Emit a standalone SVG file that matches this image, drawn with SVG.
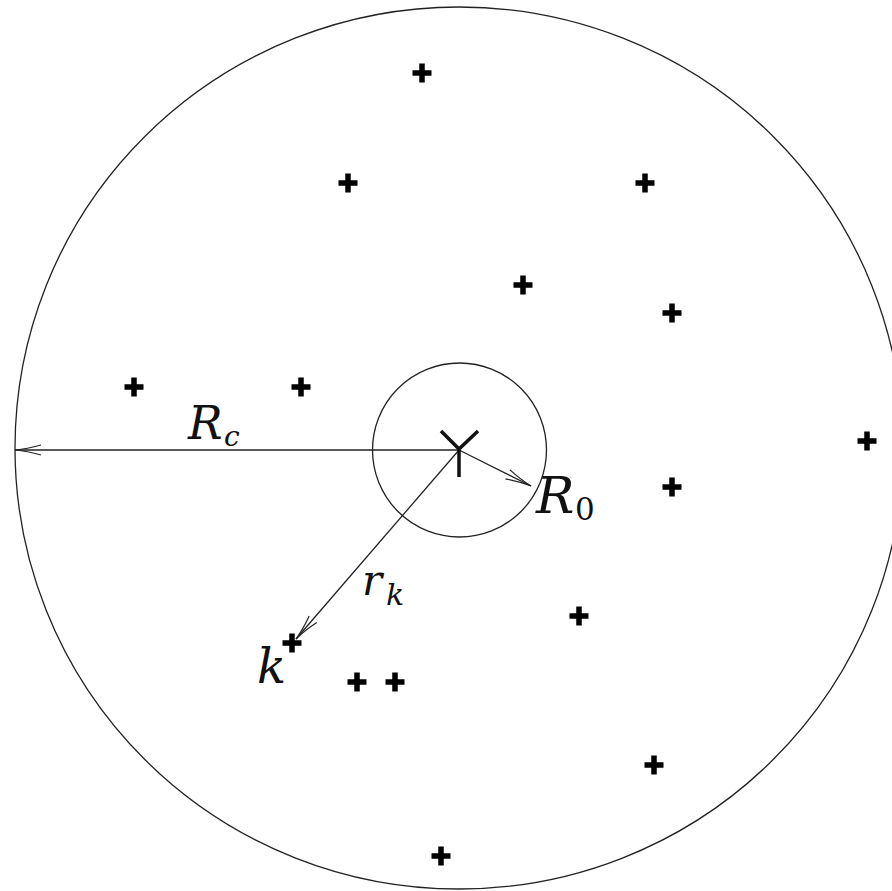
<svg xmlns="http://www.w3.org/2000/svg" xmlns:xlink="http://www.w3.org/1999/xlink" width="892" height="891" viewBox="0 0 892 891">
<style>
.circ{fill:none;stroke:#222;stroke-width:1.3}
.conn{fill:none;stroke:#222;stroke-width:1.3}
text{fill:#111;font-family:"DejaVu Serif","Liberation Serif",serif}
.plus{stroke:#000;stroke-width:5.5;fill:none}
.ant{stroke:#111;stroke-width:3.5;fill:none;stroke-linecap:butt}
</style>
<defs>
<marker id="arr" markerUnits="userSpaceOnUse" viewBox="-28 -7 30 14" markerWidth="30" markerHeight="14" refX="0" refY="0" orient="auto">
<path d="M-26,-5 Q-12,-1 0,0 Q-12,1 -26,5" fill="none" stroke="#222" stroke-width="1.2"/>
</marker>
<path id="plus" class="plus" d="M-9.5,0H9.5M0,-9.5V9.5"/>
</defs>
<rect width="892" height="891" fill="#fff"/>
<g id="outer-circle"><ellipse class="circ" cx="459" cy="448" rx="444" ry="441"/></g>
<g id="inner-circle"><circle class="circ" cx="459.5" cy="450" r="87"/></g>
<g id="connectors">
<line class="conn" x1="459" y1="450" x2="15" y2="450" marker-end="url(#arr)"/>
<line class="conn" x1="459" y1="450" x2="531" y2="486" marker-end="url(#arr)"/>
<line class="conn" x1="459" y1="450" x2="296" y2="639" marker-end="url(#arr)"/>
</g>
<g id="antenna"><path class="ant" d="M441,431L459,449L478,431M459,449V477"/></g>
<g id="points">
<use xlink:href="#plus" x="422" y="73"/>
<use xlink:href="#plus" x="348" y="183"/>
<use xlink:href="#plus" x="645" y="183"/>
<use xlink:href="#plus" x="523" y="285"/>
<use xlink:href="#plus" x="672" y="313"/>
<use xlink:href="#plus" x="134" y="387"/>
<use xlink:href="#plus" x="301" y="387"/>
<use xlink:href="#plus" x="867" y="441"/>
<use xlink:href="#plus" x="672" y="487"/>
<use xlink:href="#plus" x="579" y="616"/>
<use xlink:href="#plus" x="292" y="643"/>
<use xlink:href="#plus" x="357" y="682"/>
<use xlink:href="#plus" x="395" y="682"/>
<use xlink:href="#plus" x="654" y="765"/>
<use xlink:href="#plus" x="441" y="856"/>
</g>
<g id="labels">
<text x="188" y="439" font-size="46" font-style="italic">R</text><text x="224" y="446" font-size="28" font-style="italic">c</text>
<text x="536" y="513" font-size="51" font-style="italic">R</text><text x="575" y="520" font-size="31">0</text>
<text x="362" y="595" font-size="42" font-style="italic">r</text><text x="386" y="605" font-size="30" font-style="italic">k</text>
<text x="257" y="683" font-size="48" font-style="italic">k</text>
</g>
</svg>
